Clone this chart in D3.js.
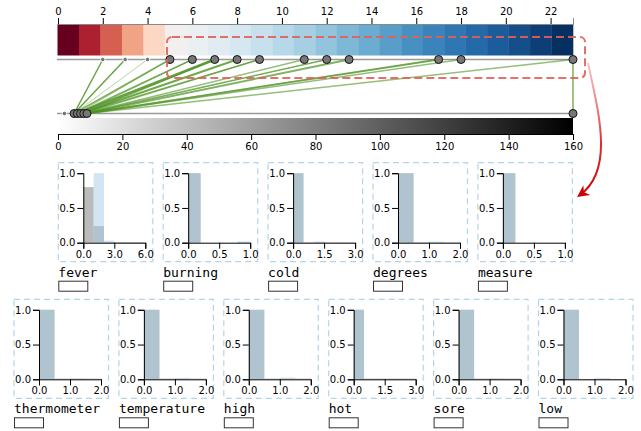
<!DOCTYPE html>
<html>
<head>
<meta charset="utf-8">
<script src="https://cdn.jsdelivr.net/npm/d3@7"></script>
<style>
  body { margin: 0; background: #fff; }
  svg { display: block; }
  .axis text { font-family: "DejaVu Sans", sans-serif; font-size: 10px; fill: #000; }
  .word { font-family: "DejaVu Sans Mono", monospace; font-size: 13px; fill: #000; }
</style>
</head>
<body>
<div id="chart"></div>
<script>
// colour cells of the top bar and tick labels
var colorCells = [0, 1, 2, 3, 4, 5, 6, 7, 8, 9, 10, 11, 12, 13, 14, 15, 16, 17, 18, 19, 20, 21, 22, 23];
var topTicks = [0, 2, 4, 6, 8, 10, 12, 14, 16, 18, 20, 22];
var bottomTicks = [0, 20, 40, 60, 80, 100, 120, 140, 160];

// dots on the two lines
var topDots = [2, 3, 4, 5, 6, 7, 8, 9, 11, 12, 13, 17, 18, 23];
var topSmall = [2, 3, 4];
var bottomDots = [2, 5, 6, 7, 8, 9, 160];
var bottomSmall = [2];

// links top value -> bottom value, width, opacity
var linkTop = [2, 3, 4, 5, 5, 6, 6, 7, 7, 8, 9, 9, 11, 12, 12, 13, 17, 17, 18, 23, 23];
var linkBottom = [5, 5, 5, 5, 6, 6, 7, 6, 8, 7, 7, 8, 8, 8, 9, 9, 9, 8, 9, 9, 160];
var linkWidth = [1.5, 1.5, 1, 1.5, 1, 1.5, 1, 2.5, 1.5, 2, 1.5, 1.5, 1.5, 1.5, 1, 2, 2, 1, 1.5, 1.5, 2];
var linkAlpha = [0.85, 0.85, 0.4, 0.7, 0.5, 0.7, 0.5, 0.85, 0.6, 0.8, 0.6, 0.6, 0.6, 0.6, 0.5, 0.7, 0.7, 0.5, 0.6, 0.6, 0.55];

// small histograms
var histNames = ["fever", "burning", "cold", "degrees", "measure",
  "thermometer", "temperature", "high", "hot", "sore", "low"];
var histMax = [6, 1, 3, 2, 1, 2, 2, 2, 3, 2, 2];
var histBin = [1, 0.2, 0.5, 0.5, 0.2, 0.5, 0.5, 0.5, 0.5, 0.5, 0.5];
var histGrey = [
  [0.8, 0.24, 0.01, 0.01, 0.01, 0.01],
  [1, 0, 0, 0, 0.005],
  [1, 0.005, 0.005, 0.005, 0.005, 0.005],
  [1, 0.005, 0.005, 0.005],
  [1, 0, 0, 0, 0],
  [1, 0.01, 0.01, 0.01],
  [1, 0.01, 0.01, 0.01],
  [1, 0.01, 0.01, 0.01],
  [1, 0.01, 0.01, 0.01, 0.01, 0.01],
  [1, 0.01, 0.01, 0.01],
  [1, 0.005, 0.005, 0.005]
];
var histBlue = [
  [0, 1, 0.03, 0, 0, 0],
  [1, 0, 0, 0, 0.02],
  [1, 0, 0.02, 0, 0, 0],
  [1, 0, 0.015, 0],
  [1, 0, 0, 0, 0],
  [1, 0, 0.01, 0],
  [1, 0, 0.02, 0],
  [1, 0, 0.025, 0],
  [1, 0, 0.005, 0, 0, 0],
  [1, 0, 0.01, 0],
  [1, 0, 0.02, 0]
];
var histYTicks = [0, 0.5, 1];

var dim = {
  width: 641,
  height: 431,
  left: 58,
  right: 573,
  topAxisY: 24,
  barBottom: 55.5,
  topLineY: 59.5,
  bottomLineY: 113.5,
  gradTop: 118,
  gradBottom: 134,
  frameW: 94.5,
  frameH: 99,
  plotLeft: 25,
  plotBottom: 80,
  plotW: 62,
  plotH: 69.5,
  colStep: 104.9
};

var svg = d3.select("#chart").append("svg")
  .attr("width", dim.width)
  .attr("height", dim.height);

var defs = svg.append("defs");
var grad = defs.append("linearGradient").attr("id", "greyGrad");
grad.append("stop").attr("offset", "0%").attr("stop-color", "#ffffff");
grad.append("stop").attr("offset", "100%").attr("stop-color", "#000000");

var arrowGrad = defs.append("linearGradient")
  .attr("id", "arrowGrad")
  .attr("gradientUnits", "userSpaceOnUse")
  .attr("x1", 0).attr("y1", 62).attr("x2", 0).attr("y2", 196);
arrowGrad.append("stop").attr("offset", "0%").attr("stop-color", "#f2a0a0").attr("stop-opacity", 0.6);
arrowGrad.append("stop").attr("offset", "60%").attr("stop-color", "#dd3030");
arrowGrad.append("stop").attr("offset", "100%").attr("stop-color", "#cc0000");

defs.append("marker")
  .attr("id", "arrowHead")
  .attr("viewBox", "0 0 10 10")
  .attr("refX", 7).attr("refY", 5)
  .attr("markerWidth", 6).attr("markerHeight", 6)
  .attr("orient", "auto")
  .append("path")
  .attr("d", "M0,0 L10,5 L0,10 L3,5 Z")
  .attr("fill", "#cc0000");

// ---- top: colour bar ----
var xTop = d3.scaleLinear().domain([0, 23]).range([dim.left, dim.right]);
var xCell = d3.scaleBand().domain(colorCells).range([dim.left - 0.5, dim.right]);
var cellColor = d3.scaleDiverging([0, 5, 23], d3.interpolateRdBu);

svg.append("g").selectAll("rect")
  .data(colorCells)
  .enter().append("rect")
  .attr("x", function(d) { return xCell(d); })
  .attr("y", dim.topAxisY)
  .attr("width", xCell.bandwidth() + 0.3)
  .attr("height", dim.barBottom - dim.topAxisY)
  .attr("fill", function(d) { return cellColor(d); });

var topAxis = svg.append("g")
  .attr("class", "axis")
  .attr("transform", "translate(0," + dim.topAxisY + ")")
  .call(d3.axisTop(xTop).tickValues(topTicks).tickSize(6));
topAxis.select(".domain").attr("stroke", "#888");

// ---- bottom: gradient bar ----
var xBot = d3.scaleLinear().domain([0, 160]).range([dim.left, dim.right]);

svg.append("rect")
  .attr("x", dim.left - 1)
  .attr("y", dim.gradTop)
  .attr("width", dim.right - dim.left + 1)
  .attr("height", dim.gradBottom - dim.gradTop)
  .attr("fill", "url(#greyGrad)");

svg.append("g")
  .attr("class", "axis")
  .attr("transform", "translate(0," + dim.gradBottom + ")")
  .call(d3.axisBottom(xBot).tickValues(bottomTicks).tickSize(6));

// the two grey lines
[dim.topLineY, dim.bottomLineY].forEach(function(y) {
  svg.append("line")
    .attr("x1", dim.left - 1).attr("x2", dim.right)
    .attr("y1", y).attr("y2", y)
    .attr("stroke", "#999")
    .attr("stroke-width", 1.5);
});

// links
svg.append("g").selectAll("line")
  .data(linkTop)
  .enter().append("line")
  .attr("x1", function(d) { return xTop(d); })
  .attr("y1", dim.topLineY)
  .attr("x2", function(d, i) { return xBot(linkBottom[i]); })
  .attr("y2", dim.bottomLineY)
  .attr("stroke", "#4d9221")
  .attr("stroke-width", function(d, i) { return linkWidth[i]; })
  .attr("stroke-opacity", function(d, i) { return linkAlpha[i]; });

function drawDots(values, small, scale, y) {
  svg.append("g").selectAll("circle")
    .data(values)
    .enter().append("circle")
    .attr("cx", function(d) { return scale(d); })
    .attr("cy", y)
    .attr("r", function(d) { return small.indexOf(d) >= 0 ? 2.3 : 4; })
    .attr("fill", "#777")
    .attr("stroke", function(d) { return small.indexOf(d) >= 0 ? "#fff" : "#111"; })
    .attr("stroke-width", 1);
}
drawDots(topDots, topSmall, xTop, dim.topLineY);
drawDots(bottomDots, bottomSmall, xBot, dim.bottomLineY);

// dashed selection box
svg.append("rect")
  .attr("x", 167).attr("y", 37)
  .attr("width", 418).attr("height", 41)
  .attr("rx", 5).attr("ry", 5)
  .attr("fill", "none")
  .attr("stroke", "#e0605a")
  .attr("stroke-opacity", 0.9)
  .attr("stroke-width", 2)
  .attr("stroke-dasharray", "8,4");

// red arrow down to the histograms
svg.append("path")
  .attr("d", "M588,63 C598,110 615,170 580,195")
  .attr("fill", "none")
  .attr("stroke", "url(#arrowGrad)")
  .attr("stroke-width", 2)
  .attr("marker-end", "url(#arrowHead)");

// ---- histograms ----
var yHist = d3.scaleLinear().domain([0, 1]).range([dim.plotH, 0]);

histNames.forEach(function(name, i) {
  var row = i < 5 ? 0 : 1;
  var col = i < 5 ? i : i - 5;
  var fx = (row === 0 ? 58.3 : 14) + col * dim.colStep;
  var fy = row === 0 ? 162.7 : 299.3;

  var g = svg.append("g").attr("transform", "translate(" + fx + "," + fy + ")");

  g.append("rect")
    .attr("x", 0).attr("y", 0)
    .attr("width", dim.frameW).attr("height", dim.frameH)
    .attr("fill", "none")
    .attr("stroke", "#a6cee3")
    .attr("stroke-opacity", 0.85)
    .attr("stroke-width", 1.2)
    .attr("stroke-dasharray", "6,4");

  var x = d3.scaleLinear().domain([0, histMax[i]]).range([0, dim.plotW]);
  var plot = g.append("g")
    .attr("transform", "translate(" + dim.plotLeft + "," + (dim.plotBottom - dim.plotH) + ")");

  [[histGrey[i], "#777"], [histBlue[i], "#a6cee3"]].forEach(function(s) {
    plot.append("g").selectAll("rect")
      .data(s[0])
      .enter().append("rect")
      .attr("x", function(d, j) { return x(j * histBin[i]); })
      .attr("y", function(d) { return yHist(d); })
      .attr("width", function(d, j) { return x((j + 1) * histBin[i]) - x(j * histBin[i]); })
      .attr("height", function(d) { return dim.plotH - yHist(d); })
      .attr("fill", s[1])
      .attr("fill-opacity", 0.5);
  });

  plot.append("g")
    .attr("class", "axis")
    .call(d3.axisLeft(yHist).tickValues(histYTicks).tickFormat(d3.format(".1f")).tickSize(6).tickPadding(2));

  plot.append("g")
    .attr("class", "axis")
    .attr("transform", "translate(0," + dim.plotH + ")")
    .call(d3.axisBottom(x).tickValues([0, histMax[i] / 2, histMax[i]]).tickFormat(d3.format(".1f")).tickSize(6).tickPadding(2));

  g.append("text")
    .attr("class", "word")
    .attr("x", 0)
    .attr("y", dim.frameH + 15)
    .text(name);

  g.append("rect")
    .attr("x", 0.5)
    .attr("y", dim.frameH + 19.5)
    .attr("width", 29)
    .attr("height", 10)
    .attr("fill", "#fff")
    .attr("stroke", "#333")
    .attr("stroke-width", 1);
});
</script>
</body>
</html>
